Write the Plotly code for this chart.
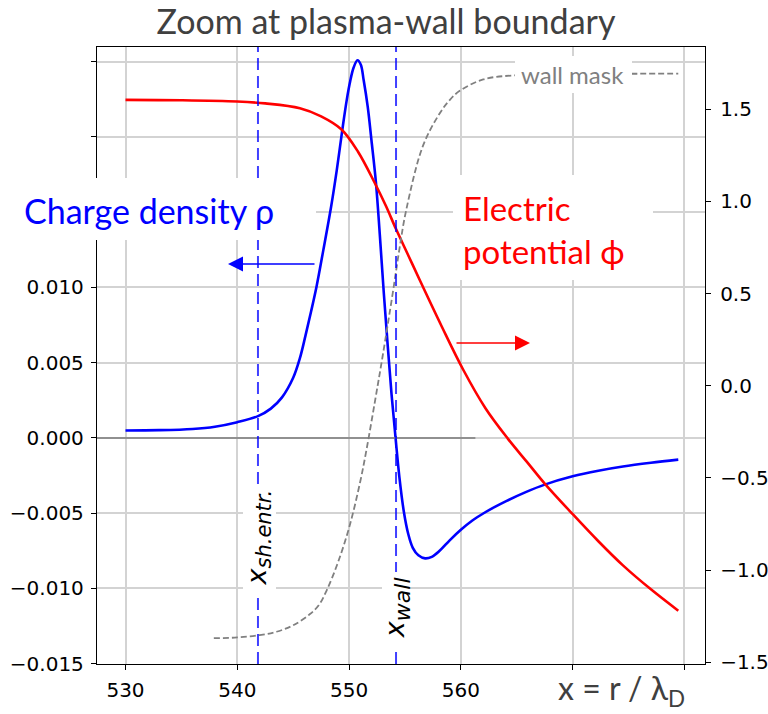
import plotly.graph_objects as go

# ---------------- data ----------------
x_rho = [530.0, 533.0, 536.0, 538.0, 540.0, 541.85, 543.0, 544.0, 545.0, 545.6,
         546.1, 546.6, 547.1, 547.7, 548.4, 548.9, 549.4, 549.8, 550.1, 550.4,
         550.75, 551.05, 551.3, 551.67, 552.0, 552.4, 552.75, 553.1, 553.45, 553.8,
         554.17, 554.5, 554.9, 555.3, 555.7, 556.2, 556.8, 557.4, 558.1, 559.0,
         560.0, 561.0, 562.0, 563.0, 564.1, 565.8, 567.5, 570.0, 572.3, 574.5,
         577.0, 579.45]
rho = [0.00050, 0.00052, 0.00060, 0.00075, 0.00105, 0.00145, 0.00195, 0.0027, 0.0040, 0.0053,
       0.0068, 0.0084, 0.0101, 0.0125, 0.0154, 0.0178, 0.0205, 0.0225, 0.0237, 0.0246,
       0.0251, 0.0248, 0.0238, 0.0220, 0.0198, 0.0170, 0.0135, 0.0097, 0.0062, 0.0029,
       -0.0001, -0.0026, -0.0049, -0.0064, -0.0073, -0.0078, -0.0080, -0.0079, -0.0075, -0.0068,
       -0.0061, -0.0055, -0.00502, -0.00460, -0.00418, -0.0036, -0.0031, -0.00255, -0.00218, -0.0019,
       -0.00165, -0.00144]

x_phi = [530.0, 535.0, 540.0, 542.5, 545.6, 547.5, 549.3, 550.8, 552.3, 553.3,
         554.2, 555.3, 556.3, 558.3, 560.2, 562.2, 564.2, 566.0, 567.5, 570.05,
         572.3, 574.5, 577.0, 579.45]
phi = [1.551, 1.549, 1.542, 1.532, 1.506, 1.462, 1.392, 1.27, 1.10, 0.975,
       0.85, 0.707, 0.576, 0.32, 0.088, -0.122, -0.287, -0.42, -0.531, -0.70,
       -0.844, -0.975, -1.105, -1.221]

x_mask = [537.9, 540.0, 542.0, 543.5, 545.0, 546.5, 547.3, 548.0, 549.0, 550.05,
          551.0, 551.55, 552.3, 553.0, 553.9, 554.5, 555.1, 556.6, 558.1, 559.0,
          559.9, 562.0, 564.7, 568.0, 572.0, 576.0, 579.45]
mask = [-1.370, -1.366, -1.353, -1.335, -1.300, -1.239, -1.190, -1.110, -0.960, -0.760,
        -0.520, -0.350, -0.090, 0.160, 0.500, 0.740, 0.950, 1.300, 1.477, 1.550,
        1.600, 1.662, 1.684, 1.690, 1.692, 1.693, 1.693]

x_markers = [541.85, 554.2]          # sheath entrance, wall
zero_line_end = 561.3

x_ticks = [530, 540, 550, 560, 570, 580]
x_ticktext = ["530", "540", "550", "560", "", ""]
y_ticks = [-0.015, -0.010, -0.005, 0.0, 0.005, 0.010, 0.015, 0.020, 0.025]
y_ticktext = ["\u22120.015", "\u22120.010", "\u22120.005", "0.000", "0.005", "0.010", "", "", ""]
y2_ticks = [-1.5, -1.0, -0.5, 0.0, 0.5, 1.0, 1.5]
y2_ticktext = ["\u22121.5", "\u22121.0", "\u22120.5", "0.0", "0.5", "1.0", "1.5"]

# ---------------- layout geometry ----------------
W, H = 768, 714
ML, MR, MT, MB = 97, 63, 47, 50
PW, PH = W - ML - MR, H - MT - MB


def px(xp):
    return (xp - ML) / PW


def py(yp):
    return (H - MB - yp) / PH


TXT = "Lato"
TICKF = dict(family="DejaVu Sans", size=20, color="black")

fig = go.Figure()
fig.add_trace(go.Scatter(x=x_rho, y=rho, mode="lines", yaxis="y",
                         line=dict(color="#0000ff", width=2.6, shape="spline", smoothing=1.0)))
fig.add_trace(go.Scatter(x=x_phi, y=phi, mode="lines", yaxis="y2",
                         line=dict(color="#ff0000", width=2.6, shape="spline", smoothing=1.0)))
fig.add_trace(go.Scatter(x=x_mask, y=mask, mode="lines", yaxis="y2",
                         line=dict(color="#808080", width=1.8, dash="6px,3px", shape="spline", smoothing=1.0)))

shapes = [dict(type="line", xref="x", yref="y", x0=527.45, x1=zero_line_end,
               y0=0, y1=0, line=dict(color="#7a7a7a", width=1.5), layer="above")]
# vertical marker lines
for xm in x_markers:
    shapes.append(dict(type="line", xref="x", yref="paper", x0=xm, x1=xm, y0=0, y1=1,
                       line=dict(color="rgba(0,0,255,0.75)", width=2, dash="12px,6px"),
                       layer="above"))
# white label boxes
boxes = [(15, 178, 316, 240), (453, 175, 653, 280), (515, 56, 632, 93),
         (243, 490, 276, 593), (382, 572, 408, 650)]
for (x0, y0, x1, y1) in boxes:
    shapes.append(dict(type="rect", xref="paper", yref="paper", x0=px(x0), x1=px(x1),
                       y0=py(y1), y1=py(y0), fillcolor="white", line=dict(width=0),
                       layer="above"))

annotations = [
    dict(text="Charge density \u03c1", xref="paper", yref="paper", x=px(22), y=py(210),
         xanchor="left", yanchor="middle", showarrow=False,
         font=dict(family=TXT, size=34, color="#0000ff")),
    dict(text="Electric<br>potential \u03d5", xref="paper", yref="paper", x=px(461), y=py(229),
         xanchor="left", yanchor="middle", align="left", showarrow=False,
         font=dict(family=TXT, size=33, color="#ff0000")),
    dict(text="wall mask", xref="paper", yref="paper", x=px(572), y=py(75),
         xanchor="center", yanchor="middle", showarrow=False,
         font=dict(family=TXT, size=24, color="#808080")),
    dict(text="x = r / \u03bb<sub>D</sub>", xref="paper", yref="paper", x=px(556), y=py(690),
         xanchor="left", yanchor="middle", showarrow=False,
         font=dict(family=TXT, size=32, color="#404040")),
    dict(text="<i>x</i><sub><span style='font-size:21px'><i>sh.entr.</i></span></sub>",
         xref="x", yref="paper", x=x_markers[0] + 0.05,
         y=py(538), textangle=-90, showarrow=False, xanchor="center", yanchor="middle",
         font=dict(family="DejaVu Sans", size=27, color="black")),
    dict(text="<i>x</i><sub><span style='font-size:22px'><i>wall</i></span></sub>",
         xref="x", yref="paper", x=x_markers[1] + 0.1,
         y=py(608), textangle=-90, showarrow=False, xanchor="center", yanchor="middle",
         font=dict(family="DejaVu Sans", size=27, color="black")),
    # arrows
    dict(text="", xref="paper", yref="paper", x=px(228), y=py(264), ax=88, ay=0,
         showarrow=True, arrowhead=2, arrowsize=2, arrowwidth=1.5, arrowcolor="#0000ff"),
    dict(text="", xref="paper", yref="paper", x=px(530), y=py(343), ax=-75, ay=0,
         showarrow=True, arrowhead=2, arrowsize=2, arrowwidth=1.5, arrowcolor="#ff0000"),
]

axis_common = dict(showline=True, linecolor="black", linewidth=1.3, ticks="outside",
                   ticklen=5, tickwidth=1.3, tickcolor="black", tickfont=TICKF,
                   zeroline=False, automargin=False)

fig.update_layout(
    width=W, height=H, autosize=False,
    margin=dict(l=ML, r=MR, t=MT, b=MB, pad=0, autoexpand=False),
    paper_bgcolor="white", plot_bgcolor="white",
    showlegend=False,
    title=dict(text="Zoom at plasma-wall boundary", xref="paper", x=px(386), xanchor="center",
               yref="container", y=1 - 22 / H, yanchor="middle",
               font=dict(family=TXT, size=34, color="#404040")),
    xaxis=dict(range=[527.45, 581.84], tickvals=x_ticks, ticktext=x_ticktext,
               showgrid=True, gridcolor="#d3d3d3", gridwidth=1.5, mirror=True,
               ticklabelstandoff=3, **axis_common),
    yaxis=dict(range=[-0.01502, 0.02598], tickvals=y_ticks, ticktext=y_ticktext,
               showgrid=True, gridcolor="#d3d3d3", gridwidth=1.5, ticklabelstandoff=3,
               **axis_common),
    yaxis2=dict(range=[-1.51, 1.838], tickvals=y2_ticks, ticktext=y2_ticktext,
                overlaying="y", side="right", showgrid=False, ticklabelstandoff=5,
                **axis_common),
    shapes=shapes,
    annotations=annotations,
)

fig.write_html("out.html")
